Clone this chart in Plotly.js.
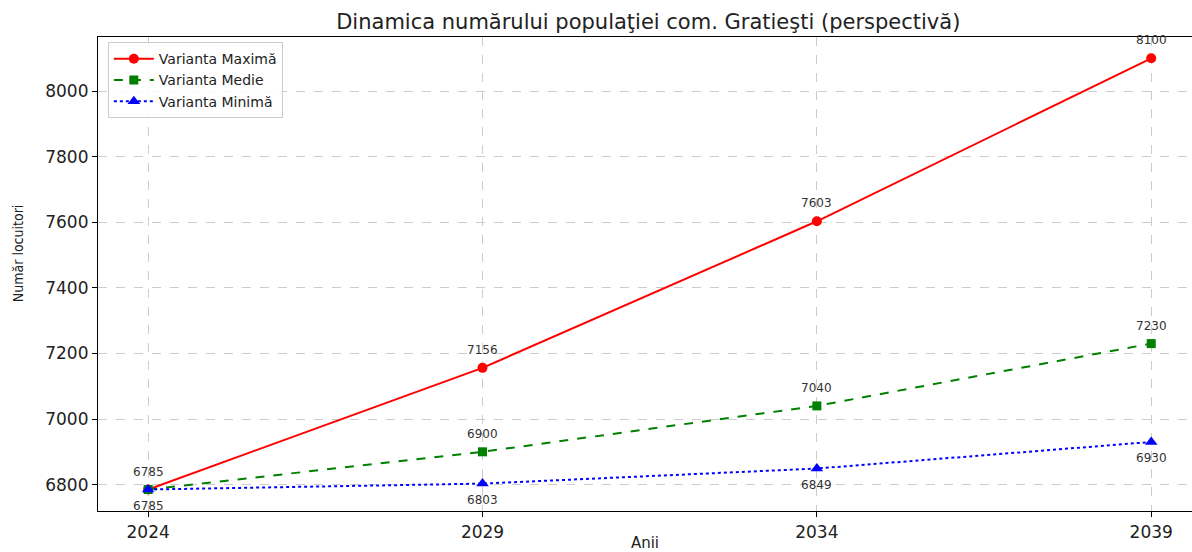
<!DOCTYPE html>
<html>
<head>
<meta charset="utf-8">
<script src="https://cdn.plot.ly/plotly-3.0.1.min.js"></script>
<style>html,body{margin:0;padding:0;background:#fff;}#chart{width:1192px;height:552px;}</style>
</head>
<body>
<div id="chart"></div>
<script>
const years = [2024, 2029, 2034, 2039];
const tickLabels = ["2024", "2029", "2034", "2039"];
const seriesNames = ["Varianta Maximă", "Varianta Medie", "Varianta Minimă"];
const maxValues = [6785, 7156, 7603, 8100];
const medValues = [6785, 6900, 7040, 7230];
const minValues = [6785, 6803, 6849, 6930];
const yTitle = "Număr locuitori";

const FONT = "'DejaVu Sans', sans-serif";

const traces = [
  {x: years, y: maxValues, name: seriesNames[0], mode: 'lines+markers',
   line: {color: '#ff0000', width: 2, dash: 'solid'}, marker: {symbol: 'circle', size: 10, color: '#ff0000'}},
  {x: years, y: medValues, name: seriesNames[1], mode: 'lines+markers',
   line: {color: '#008000', width: 2, dash: 'dash'}, marker: {symbol: 'square', size: 9, color: '#008000'}},
  {x: years, y: minValues, name: seriesNames[2], mode: 'lines+markers',
   line: {color: '#0000ff', width: 2, dash: 'dot'}, marker: {symbol: 'triangle-up', size: 11, color: '#0000ff'}}
];

const annotations = [];
const labelFont = {family: FONT, size: 12, color: '#333'};
years.forEach((yr, i) => {
  annotations.push({x: yr, y: maxValues[i], xref: 'x', yref: 'y', text: String(maxValues[i]), showarrow: false, yshift: 18, font: labelFont});
  if (i > 0) annotations.push({x: yr, y: medValues[i], xref: 'x', yref: 'y', text: String(medValues[i]), showarrow: false, yshift: 18, font: labelFont});
  annotations.push({x: yr, y: minValues[i], xref: 'x', yref: 'y', text: String(minValues[i]), showarrow: false, yshift: -16, font: labelFont});
});
annotations.push({x: -0.0731, y: 0.544, xref: 'paper', yref: 'paper', text: yTitle, textangle: -90, showarrow: false,
  xanchor: 'center', yanchor: 'middle',
  font: {family: "'Liberation Sans Narrow', 'DejaVu Sans Condensed', sans-serif", size: 14, color: '#222'}});

const layout = {
  width: 1192, height: 552,
  margin: {l: 98, r: 0, t: 37, b: 41, pad: 0},
  paper_bgcolor: '#fff', plot_bgcolor: '#fff',
  font: {family: FONT, size: 15, color: '#222'},
  title: {text: 'Dinamica numărului populaţiei com. Gratieşti (perspectivă)', x: 0.503, xref: 'paper', y: 0.96, yref: 'container', yanchor: 'middle',
          font: {family: FONT, size: 21, color: '#222'}},
  showlegend: true,
  legend: {x: 0.009, y: 0.989, xanchor: 'left', yanchor: 'top', bgcolor: 'rgba(255,255,255,0.85)', bordercolor: '#cccccc', borderwidth: 1,
           font: {family: FONT, size: 14, color: '#222'}, tracegroupgap: 0, itemwidth: 40},
  xaxis: {range: [2023.25, 2039.61], tickvals: years, ticktext: tickLabels, ticks: 'outside', ticklen: 5, tickcolor: '#000',
          showline: true, linecolor: '#000', linewidth: 1.2, mirror: true, zeroline: false,
          showgrid: true, gridcolor: '#cccccc', griddash: 'dash', gridwidth: 1,
          tickfont: {family: FONT, size: 17, color: '#222'},
          title: {text: 'Anii', standoff: 6, font: {family: FONT, size: 15, color: '#222'}}},
  yaxis: {range: [6719.5, 8165], tickvals: [6800, 7000, 7200, 7400, 7600, 7800, 8000], ticks: 'outside', ticklen: 5, tickcolor: '#000',
          showline: true, linecolor: '#000', linewidth: 1.2, mirror: true, zeroline: false,
          showgrid: true, gridcolor: '#cccccc', griddash: 'dash', gridwidth: 1,
          tickfont: {family: FONT, size: 17, color: '#222'}},
  annotations: annotations
};

Plotly.newPlot('chart', traces, layout, {displayModeBar: false, responsive: false});
</script>
</body>
</html>
